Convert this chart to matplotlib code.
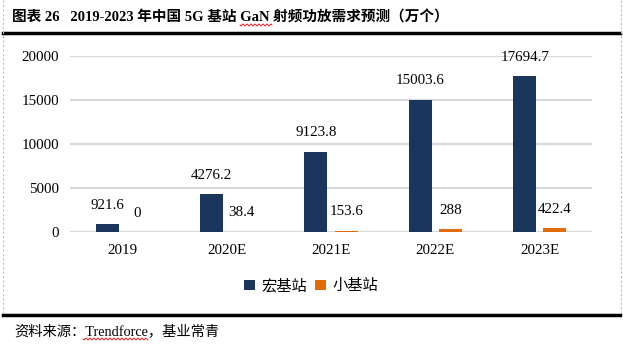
import numpy as np
import matplotlib.pyplot as plt

plt.rcParams['font.family'] = ['Liberation Serif', 'Noto Sans CJK SC']

# data
years = ['2019', '2020E', '2021E', '2022E', '2023E']
macro = [921.6, 4276.2, 9123.8, 15003.6, 17694.7]
small = [0, 38.4, 153.6, 288, 422.4]
macro_lbl = ['921.6', '4276.2', '9123.8', '15003.6', '17694.7']
small_lbl = ['0', '38.4', '153.6', '288', '422.4']

navy = '#1B365D'
orange = '#E36C0A'
W, H = 623, 344

fig = plt.figure(figsize=(W / 100, H / 100), dpi=100)

# axes placement in pixels
x0, x1 = 70, 592
yb, yt = 232, 55.7
ax = fig.add_axes([x0 / W, 1 - yb / H, (x1 - x0) / W, (yb - yt) / H])

x = np.arange(len(years))
bw = 0.22
off = 0.145
b1 = ax.bar(x - off, macro, bw, color=navy, label='宏基站', zorder=3)
b2 = ax.bar(x + off, small, bw, color=orange, label='小基站', zorder=3)

for xi, v, t in zip(x - off, macro, macro_lbl):
    ax.annotate(t, (xi, v), xytext=(0, 13.5), textcoords='offset points',
                ha='center', va='center', fontsize=10.8, clip_on=False)
for xi, v, t in zip(x + off, small, small_lbl):
    ax.annotate(t, (xi, v), xytext=(0, 13.5), textcoords='offset points',
                ha='center', va='center', fontsize=10.8, clip_on=False)

ax.set_xlim(-0.5, len(years) - 0.5)
ax.set_ylim(0, 20000)
ax.set_yticks([0, 5000, 10000, 15000, 20000])
ax.set_xticks(x)
ax.set_xticklabels(years)
ax.tick_params(axis='both', length=0, labelsize=10.8)
ax.tick_params(axis='y', pad=8)
ax.tick_params(axis='x', pad=9)
ax.grid(axis='y', color='#D9D9D9', linewidth=1.6, zorder=0)
for s in ax.spines.values():
    s.set_visible(False)

leg = fig.legend(handles=[b1, b2], loc='center', bbox_to_anchor=(311 / W, 1 - 286 / H),
                 ncol=2, frameon=False, fontsize=11, handlelength=0.7, handleheight=0.7,
                 handletextpad=0.45, columnspacing=0.5)

# title, frame lines, source
fig.text(12 / W, 1 - 17 / H, '图表 26   2019-2023 年中国 5G 基站 GaN 射频功放需求预测（万个）',
         fontsize=10.5, fontweight='bold', ha='left', va='center')
fig.add_artist(plt.Line2D([3 / W, 620 / W], [1 - 33 / H, 1 - 33 / H], color='black', linewidth=2.5))
fig.add_artist(plt.Line2D([3 / W, 620 / W], [1 - 315 / H, 1 - 315 / H], color='black', linewidth=2.5))
fig.add_artist(plt.Line2D([3 / W, 3 / W], [1 - 0 / H, 1 - 315 / H], color='#BFBFBF',
                          linewidth=0.8, linestyle=(0, (2, 2))))
fig.add_artist(plt.Line2D([621 / W, 621 / W], [1 - 0 / H, 1 - 315 / H], color='#BFBFBF',
                          linewidth=0.8, linestyle=(0, (2, 2))))
fig.text(14 / W, 1 - 331 / H, '资料来源：Trendforce，基业常青', fontsize=10.3,
         ha='left', va='center')

# spell-check squiggles
for xa, xb, yy in [(240, 272, 25), (83, 148, 339)]:
    xs = np.linspace(xa, xb, 80)
    ys = yy + 1.0 * np.sin((xs - xa) * 2 * np.pi / 4)
    fig.add_artist(plt.Line2D(xs / W, 1 - ys / H, color='red', linewidth=0.6))

fig.savefig('out.png', dpi=100)
